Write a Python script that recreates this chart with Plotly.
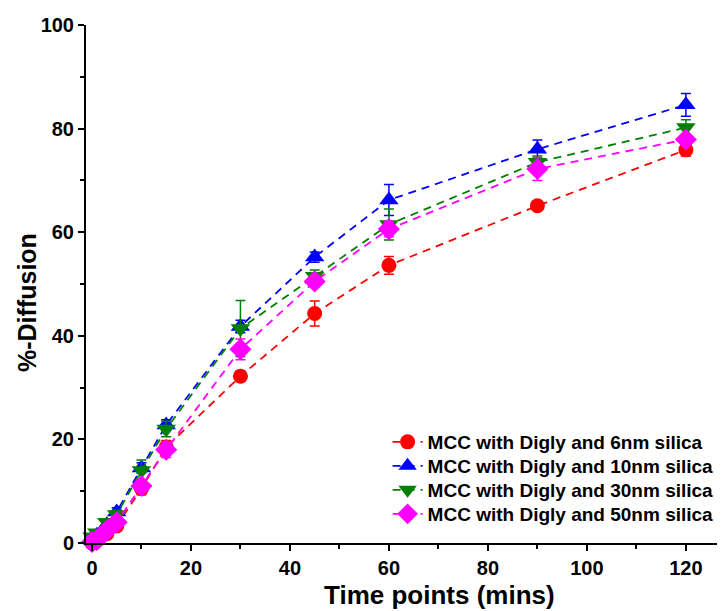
import plotly.graph_objects as go

time = [0, 1, 3, 5, 10, 15, 30, 45, 60, 90, 120]

names = ["MCC with Digly and 6nm silica", "MCC with Digly and 10nm silica",
         "MCC with Digly and 30nm silica", "MCC with Digly and 50nm silica"]

s6 = [0, 0.5, 1.8, 3.3, 10.5, 18.5, 32.2, 44.3, 53.6, 65.1, 75.9]
e6 = [0.3, 0.4, 0.6, 0.8, 1.2, 1.3, 1.0, 2.4, 1.7, 0.8, 1.2]
s10 = [0.8, 1.5, 3.5, 6.0, 14.5, 22.8, 41.8, 55.2, 66.2, 76.0, 84.6]
e10 = [0.3, 0.4, 0.6, 0.8, 1.0, 1.0, 1.2, 1.0, 3.0, 1.8, 2.2]
s30 = [1.2, 2.0, 4.0, 5.5, 14.0, 22.0, 41.4, 51.5, 61.5, 73.5, 80.2]
e30 = [0.3, 0.4, 0.6, 0.8, 2.0, 1.5, 5.4, 1.2, 3.0, 1.2, 1.5]
s50 = [0.2, 0.6, 2.4, 4.0, 11.0, 18.0, 37.4, 50.5, 60.6, 72.2, 77.9]
e50 = [0.3, 0.4, 0.6, 0.8, 1.2, 1.5, 2.0, 1.0, 1.5, 2.2, 1.0]

x_title = "Time points (mins)"
y_title = "%-Diffusion"

series = [s6, s10, s30, s50]
errors = [e6, e10, e30, e50]
colors = ["#ff0000", "#0000ff", "#008000", "#ff00ff"]
symbols = ["circle", "triangle-up", "triangle-down", "diamond"]
sizes = [15, 17, 17, 17]
legend_ids = ["legend", "legend2", "legend3", "legend4"]

fig = go.Figure()
for nm, ys, es, c, sym, sz, lg in zip(names, series, errors, colors, symbols, sizes, legend_ids):
    fig.add_trace(go.Scatter(
        x=time, y=ys, name=nm, mode="lines+markers", legend=lg,
        line=dict(color=c, width=1.8, dash="8px,6px"),
        marker=dict(color=c, symbol=sym, size=sz, line=dict(width=0)),
        error_y=dict(type="data", array=es, visible=True, color=c, thickness=1.5, width=5),
        cliponaxis=False,
    ))

font = "Liberation Sans, Arial, sans-serif"
# plot area in screen px: left 86, right 725, top 25, bottom 543
row_centers = [442, 466, 490, 514]
legend_layout = {}
for lg, rc in zip(legend_ids, row_centers):
    legend_layout[lg] = dict(
        x=0.472, y=(543 - rc) / 518, xanchor="left", yanchor="middle",
        bgcolor="rgba(0,0,0,0)", borderwidth=0,
        font=dict(family=font, size=19, color="black", weight="bold"),
    )

# page body adds an 8px offset; figure is sized/placed to compensate
fig.update_layout(
    width=717, height=603,
    margin=dict(l=78, r=0, t=17, b=68),
    plot_bgcolor="white", paper_bgcolor="white",
    font=dict(family=font, color="black"),
    showlegend=True,
    **legend_layout,
    xaxis=dict(
        range=[-1.2, 127.9], showgrid=False, zeroline=False, automargin=False,
        showline=True, linecolor="black", linewidth=2,
        ticks="outside", tickwidth=2, ticklen=6, tickcolor="black",
        tick0=0, dtick=20,
        tickfont=dict(family=font, size=20, color="black", weight="bold"),
        minor=dict(ticks="outside", ticklen=4, tickwidth=1.5, tickcolor="black", dtick=10),
    ),
    yaxis=dict(
        range=[0, 100], showgrid=False, zeroline=False, automargin=False,
        showline=True, linecolor="black", linewidth=2,
        ticks="outside", tickwidth=2, ticklen=6, tickcolor="black",
        tick0=0, dtick=20,
        tickfont=dict(family=font, size=20, color="black", weight="bold"),
        minor=dict(ticks="outside", ticklen=4, tickwidth=1.5, tickcolor="black", dtick=10),
    ),
    annotations=[
        dict(text=x_title, xref="paper", yref="paper", x=(439 - 86) / 639, y=(543 - 595) / 518,
             xanchor="center", yanchor="middle", showarrow=False,
             font=dict(family=font, size=26, color="black", weight="bold")),
        dict(text=y_title, xref="paper", yref="paper", x=(27 - 86) / 639, y=(543 - 303) / 518,
             xanchor="center", yanchor="middle", showarrow=False, textangle=-90,
             font=dict(family=font, size=25, color="black", weight="bold")),
    ],
)

fig.write_html("out.html")
